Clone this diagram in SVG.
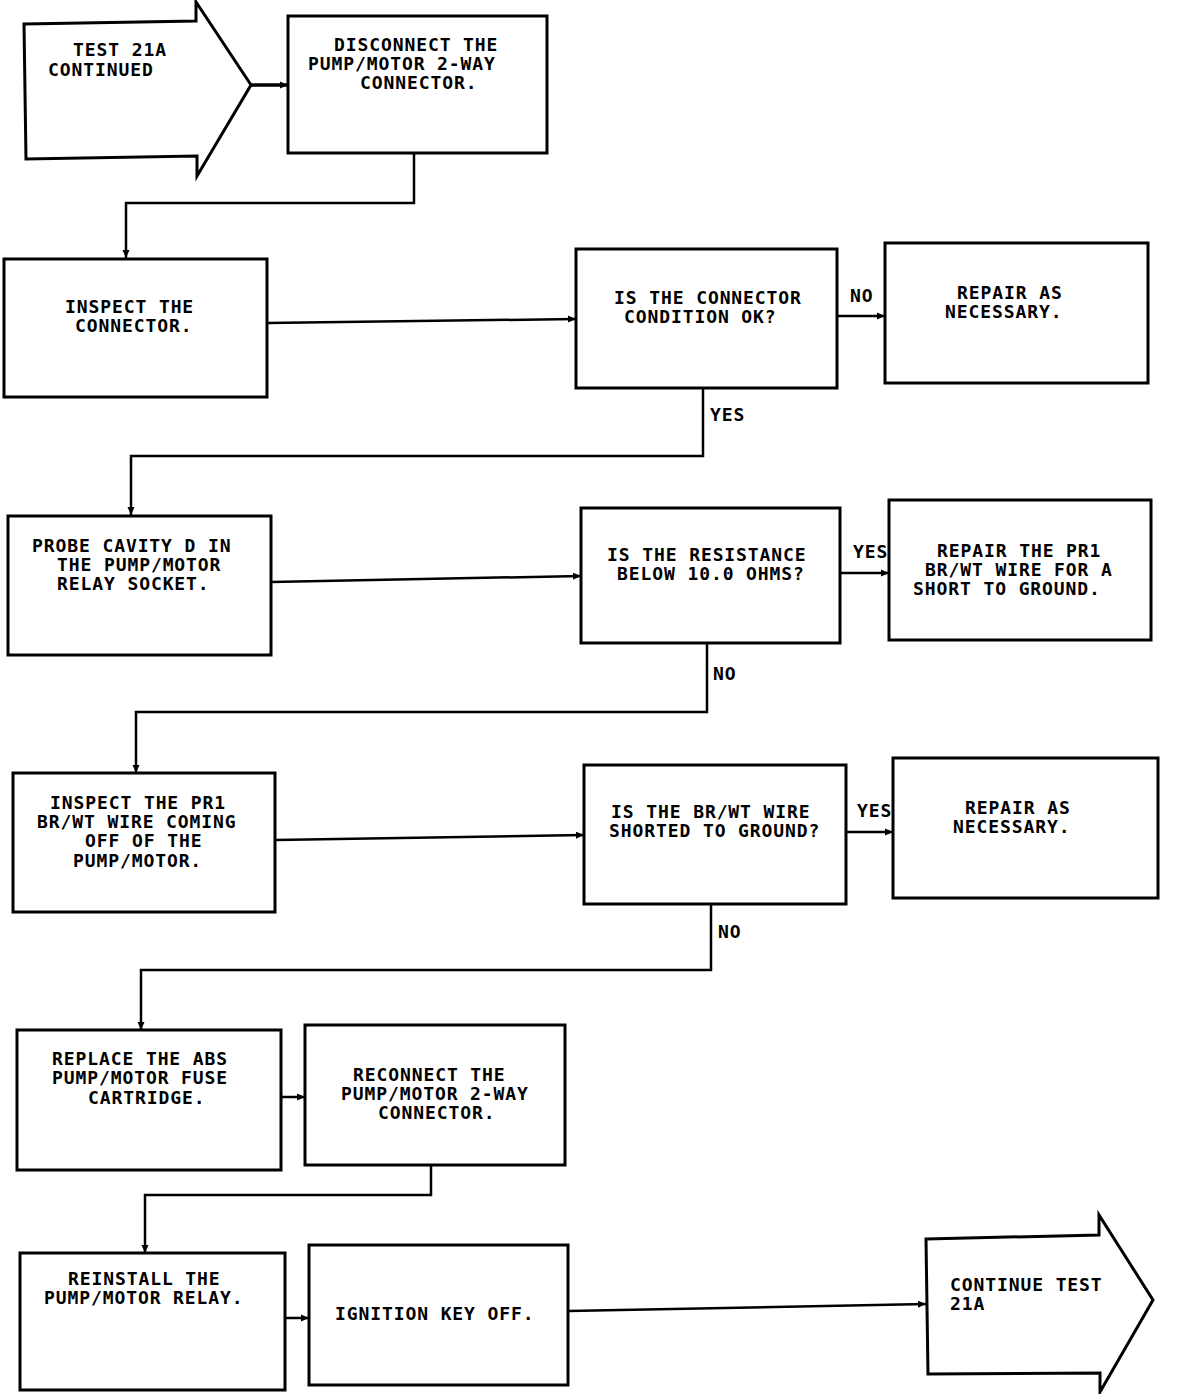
<svg xmlns="http://www.w3.org/2000/svg" width="1200" height="1394" viewBox="0 0 1200 1394">
<defs>
<style>
.box{fill:#fff;stroke:#000;stroke-width:3;stroke-linejoin:miter}
.c{fill:none;stroke:#000;stroke-width:2.5;marker-end:url(#ah)}
text{font-family:"DejaVu Sans Mono","Liberation Mono",monospace;font-size:18px;font-weight:bold;letter-spacing:0.9px;fill:#000}
</style>
<marker id="ah" markerUnits="userSpaceOnUse" markerWidth="9" markerHeight="8" refX="8" refY="4" orient="auto">
<path d="M0,0.5 L8,4 L0,7.5 z" fill="#000"/>
</marker>
</defs>
<rect width="1200" height="1394" fill="#fff"/>

<g id="connectors">
<path class="c" d="M251,85 H288" style="stroke-width:3.5"/>
<path class="c" d="M414,154 V203 H126 V258"/>
<path class="c" d="M267,323 L576,319"/>
<path class="c" d="M837,316 H885"/>
<path class="c" d="M703,388 V456 H131 V515"/>
<path class="c" d="M271,582 L581,576"/>
<path class="c" d="M840,573 H889"/>
<path class="c" d="M707,643 V712 H136 V773"/>
<path class="c" d="M275,840 L584,835"/>
<path class="c" d="M846,832 H893"/>
<path class="c" d="M711,904 V970 H141 V1030"/>
<path class="c" d="M281,1097 H305"/>
<path class="c" d="M431,1165 V1195 H145 V1253"/>
<path class="c" d="M285,1318 H309"/>
<path class="c" d="M568,1311 L926,1304"/>
<text x="850" y="302">NO</text>
<text x="710" y="421">YES</text>
<text x="853" y="558">YES</text>
<text x="713" y="680">NO</text>
<text x="857" y="817">YES</text>
<text x="718" y="938">NO</text>
</g>

<g id="start">
<polygon class="box" points="24,24 196,21 196,2 251,85 197,176 197,156 26,159"/>
<text x="73" y="56">TEST 21A</text>
<text x="48" y="76">CONTINUED</text>
</g>

<g id="disconnect">
<rect class="box" x="288" y="16" width="259" height="137"/>
<text x="334" y="51">DISCONNECT THE</text>
<text x="308" y="70">PUMP/MOTOR 2-WAY</text>
<text x="360" y="89">CONNECTOR.</text>
</g>

<g id="inspect-connector">
<rect class="box" x="4" y="259" width="263" height="138"/>
<text x="65" y="313">INSPECT THE</text>
<text x="75" y="332">CONNECTOR.</text>
</g>

<g id="decision-connector-ok">
<rect class="box" x="576" y="249" width="261" height="139"/>
<text x="614" y="304">IS THE CONNECTOR</text>
<text x="624" y="323">CONDITION OK?</text>
</g>

<g id="repair-1">
<rect class="box" x="885" y="243" width="263" height="140"/>
<text x="957" y="299">REPAIR AS</text>
<text x="945" y="318">NECESSARY.</text>
</g>

<g id="probe">
<rect class="box" x="8" y="516" width="263" height="139"/>
<text x="32" y="552">PROBE CAVITY D IN</text>
<text x="57" y="571">THE PUMP/MOTOR</text>
<text x="57" y="590">RELAY SOCKET.</text>
</g>

<g id="decision-resistance">
<rect class="box" x="581" y="508" width="259" height="135"/>
<text x="607" y="561">IS THE RESISTANCE</text>
<text x="617" y="580">BELOW 10.0 OHMS?</text>
</g>

<g id="repair-2">
<rect class="box" x="889" y="500" width="262" height="140"/>
<text x="937" y="557">REPAIR THE PR1</text>
<text x="925" y="576">BR/WT WIRE FOR A</text>
<text x="913" y="595">SHORT TO GROUND.</text>
</g>

<g id="inspect-wire">
<rect class="box" x="13" y="773" width="262" height="139"/>
<text x="50" y="809">INSPECT THE PR1</text>
<text x="37" y="828">BR/WT WIRE COMING</text>
<text x="85" y="847">OFF OF THE</text>
<text x="73" y="867">PUMP/MOTOR.</text>
</g>

<g id="decision-shorted">
<rect class="box" x="584" y="765" width="262" height="139"/>
<text x="611" y="818">IS THE BR/WT WIRE</text>
<text x="609" y="837">SHORTED TO GROUND?</text>
</g>

<g id="repair-3">
<rect class="box" x="893" y="758" width="265" height="140"/>
<text x="965" y="814">REPAIR AS</text>
<text x="953" y="833">NECESSARY.</text>
</g>

<g id="replace">
<rect class="box" x="17" y="1030" width="264" height="140"/>
<text x="52" y="1065">REPLACE THE ABS</text>
<text x="52" y="1084">PUMP/MOTOR FUSE</text>
<text x="88" y="1104">CARTRIDGE.</text>
</g>

<g id="reconnect">
<rect class="box" x="305" y="1025" width="260" height="140"/>
<text x="353" y="1081">RECONNECT THE</text>
<text x="341" y="1100">PUMP/MOTOR 2-WAY</text>
<text x="378" y="1119">CONNECTOR.</text>
</g>

<g id="reinstall">
<rect class="box" x="20" y="1253" width="265" height="137"/>
<text x="68" y="1285">REINSTALL THE</text>
<text x="44" y="1304">PUMP/MOTOR RELAY.</text>
</g>

<g id="ignition">
<rect class="box" x="309" y="1245" width="259" height="140"/>
<text x="335" y="1320">IGNITION KEY OFF.</text>
</g>

<g id="end">
<polygon class="box" points="926,1239 1099,1235 1099,1215 1153,1300 1100,1392 1100,1373 928,1374"/>
<text x="950" y="1291">CONTINUE TEST</text>
<text x="950" y="1310">21A</text>
</g>
</svg>
